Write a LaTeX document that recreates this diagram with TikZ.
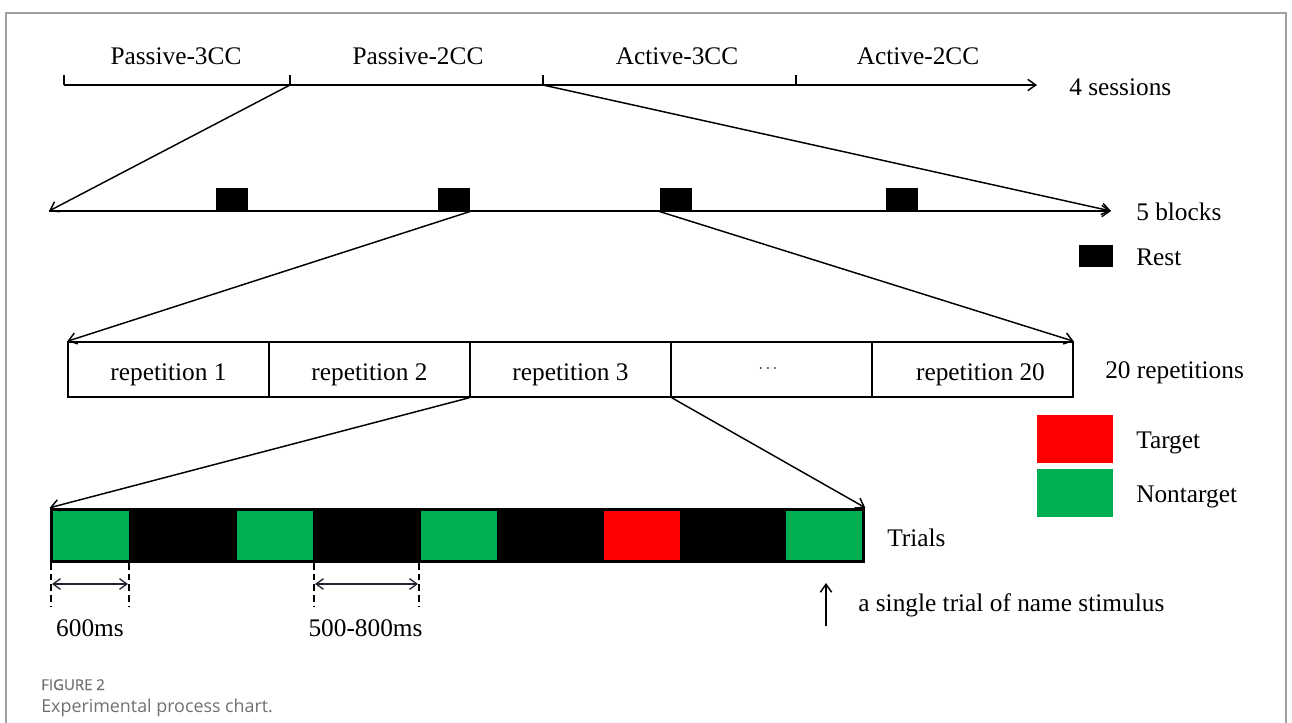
\documentclass[tikz,border=0pt]{standalone}
\usepackage{fontspec}
\setmainfont{Liberation Serif}
\newfontfamily\capfont{Open Sans}
\newfontfamily\capheadfont[FakeBold=0.7]{Open Sans}
\usetikzlibrary{arrows.meta}

\definecolor{tgtred}{HTML}{FF0000}
\definecolor{ntgreen}{HTML}{00B050}
\definecolor{framegray}{HTML}{A0A0A0}
\definecolor{dimink}{HTML}{1F2430}
\definecolor{capgray}{HTML}{707070}

\begin{document}
\begin{tikzpicture}[x=0.75pt,y=-0.75pt,
  lbl/.style={font=\fontsize{19}{22}\selectfont, inner sep=0pt, text height=0.7em, text depth=0.2em},
  ln/.style={line width=1.1pt},
  barb/.style={-{Straight Barb[length=6pt,width=8.5pt,line width=1.1pt]}},
  arr/.style={ln, barb},
  restbox/.style={fill=black, draw=none, inner sep=0pt, minimum width=24pt, minimum height=17.5pt},
  cell/.style={draw, line width=1.1pt, inner sep=0pt, minimum width=150.75pt, minimum height=41.25pt},
  stim/.style={draw=none, inner sep=0pt, minimum width=57pt, minimum height=36.75pt},
  legbox/.style={draw=none, inner sep=0pt, minimum width=57pt, minimum height=36pt},
  dashln/.style={line width=1.3pt, dash pattern=on 5pt off 3pt},
  dimarr/.style={draw=dimink, line width=1pt, {Straight Barb[length=5.5pt,width=8pt,line width=1pt]}-{Straight Barb[length=5.5pt,width=8pt,line width=1pt]}}
]
\useasboundingbox (0,0) rectangle (1292,722);

% outer frame, open at the bottom
\draw[framegray, line width=1.1pt] (6,730) -- (6,13) -- (1286,13) -- (1286,730);

% ---------- sessions ----------
\coordinate (t0) at (64,85);
\coordinate (t1) at (290,85);
\coordinate (t2) at (543,85);
\coordinate (t3) at (796,85);
\coordinate (tend) at (1037,85);
\draw[arr] (t0) -- (tend);
\foreach \t in {t0,t1,t2,t3} \draw[ln] (\t) -- ++(0,-10);

\node[lbl] (pas3) at (176,61) {Passive-3CC};
\node[lbl] (pas2) at (418,61) {Passive-2CC};
\node[lbl] (act3) at (677,61) {Active-3CC};
\node[lbl] (act2) at (918,61) {Active-2CC};
\node[lbl, anchor=west] (sess) at (1069,92) {4 sessions};

% ---------- blocks ----------
\coordinate (b0) at (49,211);
\coordinate (bend) at (1111,211);
\draw[arr] (b0) -- (bend);
\node[restbox] (r1) at (232,199.5) {};
\node[restbox] (r2) at (454,199.5) {};
\node[restbox] (r3) at (675.5,199.5) {};
\node[restbox] (r4) at (901.5,199.5) {};

\draw[arr] (t1) -- (b0);
\draw[arr] (t2) -- (bend);

\node[lbl, anchor=west] (blk) at (1136,217) {5 blocks};
\node[restbox, minimum width=25pt, minimum height=17pt] (restleg) at (1096,256) {};
\node[lbl, anchor=west] (restlbl) at (1136,262) {Rest};

% ---------- repetitions ----------
\node[cell] (rep1) at (168.5,369.5) {};
\node[cell] (rep2) at (369.5,369.5) {};
\node[cell] (rep3) at (570.5,369.5) {};
\node[cell] (rep4) at (771.5,369.5) {};
\node[cell] (rep5) at (972.5,369.5) {};
\node[lbl] (rep1t) at (168.5,377.5) {repetition 1};
\node[lbl] (rep2t) at (369.5,377.5) {repetition 2};
\node[lbl] (rep3t) at (570.5,377.5) {repetition 3};
\node[inner sep=0pt, font=\fontsize{11.5}{13}\selectfont] (rep4t) at (768,369) {$\cdots$};
\node[lbl] (rep5t) at (980.5,377.5) {repetition 20};

\draw[arr] (r2.south east) -- (rep1.north west);
\draw[arr] (r3.south west) -- (rep5.north east);

\node[lbl, anchor=west] (reps) at (1105,375) {20 repetitions};

% legend
\node[legbox, fill=tgtred] (tgtleg) at (1075,439) {};
\node[legbox, fill=ntgreen] (ntleg) at (1075,493) {};
\node[lbl, anchor=west] (tgtlbl) at (1136,445) {Target};
\node[lbl, anchor=west] (ntlbl) at (1136,499) {Nontarget};

% ---------- trials ----------
\node[fill=black, draw=none, inner sep=0pt, minimum width=611.25pt, minimum height=41.25pt] (trials) at (457.5,535.5) {};
\node[stim, fill=ntgreen] (s1) at (90.5,535.5) {};
\node[stim, fill=ntgreen] (s2) at (274.5,535.5) {};
\node[stim, fill=ntgreen] (s3) at (459,535.5) {};
\node[stim, fill=tgtred]  (s4) at (642,535.5) {};
\node[stim, fill=ntgreen] (s5) at (823.5,535.5) {};

\draw[arr] (rep3.south west) -- (trials.north west);
\draw[arr] (rep3.south east) -- (trials.north east);

\node[lbl, anchor=west] (trl) at (887,543) {Trials};

% timing marks
\coordinate (d1a) at (51,563);  \coordinate (d1b) at (51,606);
\coordinate (d2a) at (129,563); \coordinate (d2b) at (129,606);
\coordinate (d3a) at (314,563); \coordinate (d3b) at (314,606);
\coordinate (d4a) at (419,563); \coordinate (d4b) at (419,606);
\foreach \d in {d1,d2,d3,d4} \draw[dashln] (\d a) -- (\d b);

\coordinate (m1a) at (52,584);  \coordinate (m1b) at (128,584);
\coordinate (m2a) at (315,584); \coordinate (m2b) at (418,584);
\draw[dimarr] (m1a) -- (m1b);
\draw[dimarr] (m2a) -- (m2b);

\node[lbl] (t600) at (90,633) {600ms};
\node[lbl] (t500) at (365.5,633) {500-800ms};

% single trial pointer
\coordinate (pa) at (826,626);
\coordinate (pb) at (826,583);
\draw[arr] (pa) -- (pb);
\node[lbl, anchor=west] (single) at (858,608) {a single trial of name stimulus};

% ---------- caption ----------
\node[anchor=base west, inner sep=0pt, text=capgray, font=\capheadfont\fontsize{11.2}{13}\selectfont] (figno) at (41,690) {FIGURE 2};
\node[anchor=base west, inner sep=0pt, text=capgray, font=\capfont\fontsize{13.4}{16}\selectfont] (figcap) at (41,712) {Experimental process chart.};
\end{tikzpicture}
\end{document}
